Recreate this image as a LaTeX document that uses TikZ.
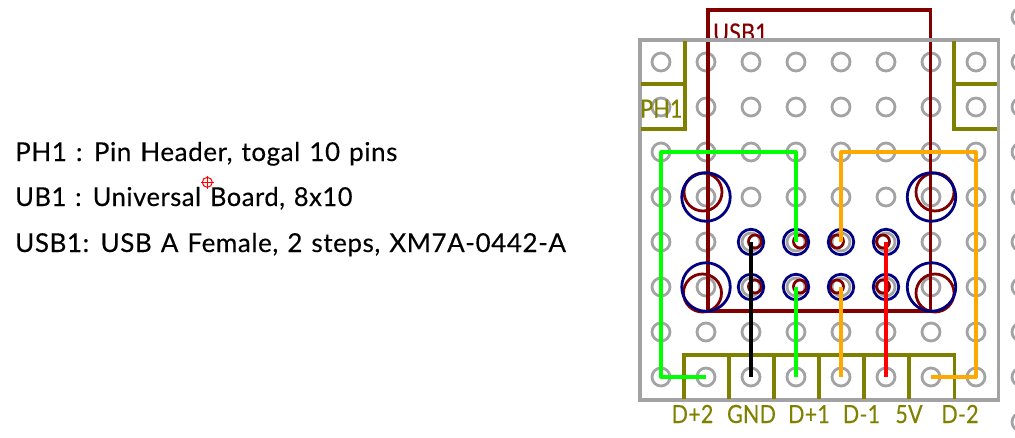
\documentclass[tikz,border=0pt]{standalone}
\usepackage{fontspec}
\usetikzlibrary{calc}
\setmainfont{Lato}
\newfontfamily\notefamily[LetterSpace=2.2,WordSpace=1.25,FakeBold=0.25]{Lato}
\newfontfamily\pinfamily[LetterSpace=1,FakeBold=0.35]{Lato}
\definecolor{brdgray}{HTML}{A3A3A6}
\definecolor{silkolive}{HTML}{808000}
\definecolor{usbred}{HTML}{800000}
\definecolor{holeblue}{HTML}{000080}
\definecolor{wireorange}{HTML}{FFA800}
\definecolor{wiregreen}{HTML}{00FF00}
\newcommand{\padpitch}{45}
\newcommand{\padxs}{661}
\newcommand{\padys}{62}
\tikzset{
  padhole/.style={circle,draw=brdgray,line width=2.8pt,minimum size=18pt,inner sep=0pt},
  smallbore/.style={circle,draw=holeblue,line width=2.8pt,minimum size=25.5pt,inner sep=0pt},
  bigbore/.style={circle,draw=holeblue,line width=2.8pt,minimum size=48.5pt,inner sep=0pt},
  smallshell/.style={circle,draw=usbred,line width=2.8pt,minimum size=13pt,inner sep=0pt},
  bigshell/.style={circle,draw=usbred,line width=2.8pt,minimum size=38pt,inner sep=0pt},
  outline/.style={line width=3.1pt,line cap=rect},
  wire/.style={line width=3.1pt,line join=round},
  note/.style={anchor=base west,inner sep=0pt,font=\fontsize{26}{30}\notefamily},
  pinlabel/.style={anchor=base,inner sep=0pt,text=silkolive,xscale=.86,transform shape,font=\fontsize{25}{30}\pinfamily}
}
\begin{document}
\begin{tikzpicture}[x=1pt,y=-1pt]
  \useasboundingbox (0,0) rectangle (1015,437);
  % text part
  \node[note] (phnote) at (15,161) {PH1 : Pin Header, togal 10 pins};
  \node[note,xscale=.98,transform shape] (ubnote) at (15,206) {UB1 : Universal Board, 8x10};
  \node[note] (usbnote) at (15,252) {USB1: USB A Female, 2 steps, XM7A-0442-A};
  % origin mark
  \node[circle,draw=red,line width=1pt,minimum size=10pt,inner sep=0pt] (origin) at (207.3,182.3) {};
  \draw[red,line width=1pt] ($(origin.north)+(0,-1)$) -- ($(origin.south)+(0,1)$);
  \draw[red,line width=1pt] ($(origin.west)+(-1,0)$) -- ($(origin.east)+(1,0)$);
  % pad part
  \foreach \col in {1,...,8}
    \foreach \row in {1,...,8}
      \node[padhole] (p-\col-\row) at ({\padxs+\padpitch*(\col-1)},{\padys+\padpitch*(\row-1)}) {};
  \foreach \row in {0,...,9}
    \node[padhole] (q-\row) at (1021,{\padys+\padpitch*(\row-1)}) {};
  % usb part
  \node[pinlabel,text=usbred,anchor=base west] (usbname) at (713,41.5) {USB1};
  \draw[usbred,outline] (708,311) -- (708,10) -- (930.5,10) -- (930.5,311) -- cycle;
  \foreach \col/\xshift in {3/4,4/4,5/-4,6/-3}
    \foreach \row in {5,6}
      \node[smallshell] (s-\col-\row) at ($(p-\col-\row)+(\xshift,-0.5)$) {};
  \node[bigshell] (ma) at (703,192) {};
  \node[bigshell] (mb) at (935,192) {};
  \node[bigshell] (mc) at (702.5,293) {};
  \node[bigshell] (md) at (935,293) {};
  % bore part
  \foreach \col in {3,...,6}
    \foreach \row in {5,6}
      \node[smallbore] (b-\col-\row) at (p-\col-\row) {};
  \node[bigbore] (ba) at (706,197) {};
  \node[bigbore] (bb) at (931.5,197) {};
  \node[bigbore] (bc) at (706,287) {};
  \node[bigbore] (bd) at (931.5,287) {};
  % board edge
  \draw[brdgray,outline] (640,40) rectangle (998.5,400);
  % pin header part
  \draw[silkolive,outline,line cap=butt] (685,41) -- (685,129) -- (641,129);
  \draw[silkolive,outline,line cap=butt] (641,84) -- (685,84);
  \draw[silkolive,outline,line cap=butt] (954,41) -- (954,129) -- (997,129);
  \draw[silkolive,outline,line cap=butt] (954,84) -- (997,84);
  \draw[silkolive,outline,line cap=butt] (684,399) -- (684,355) -- (954.5,355) -- (954.5,399);
  \foreach \xpos in {729,774,819,864,909}
    \draw[silkolive,outline,line cap=butt] (\xpos,355) -- (\xpos,399);
  \node[pinlabel,anchor=base west] (phname) at (640,117.5) {PH1};
  \node[pinlabel] (pa) at (692.5,423) {D+2};
  \node[pinlabel] (pb) at (751.5,423) {GND};
  \node[pinlabel] (pc) at (809,423) {D+1};
  \node[pinlabel] (pd) at (861.5,423) {D-1};
  \node[pinlabel] (pe) at (909,423) {5V};
  \node[pinlabel] (pf) at (960,423) {D-2};
  % wire part
  \draw[wiregreen,wire] (p-2-8.center) -- (p-1-8.center) -- (p-1-3.center) -- (p-4-3.center) -- (p-4-5.center);
  \draw[wiregreen,wire] (p-4-8.center) -- (p-4-6.center);
  \draw[black,wire] (p-3-8.center) -- (p-3-5.center);
  \draw[wireorange,wire] (p-5-8.center) -- (p-5-6.center);
  \draw[wireorange,wire] (p-7-8.center) -- (p-8-8.center) -- (p-8-3.center) -- (p-5-3.center) -- (p-5-5.center);
  \draw[red,wire] (p-6-8.center) -- (p-6-5.center);
\end{tikzpicture}
\end{document}
